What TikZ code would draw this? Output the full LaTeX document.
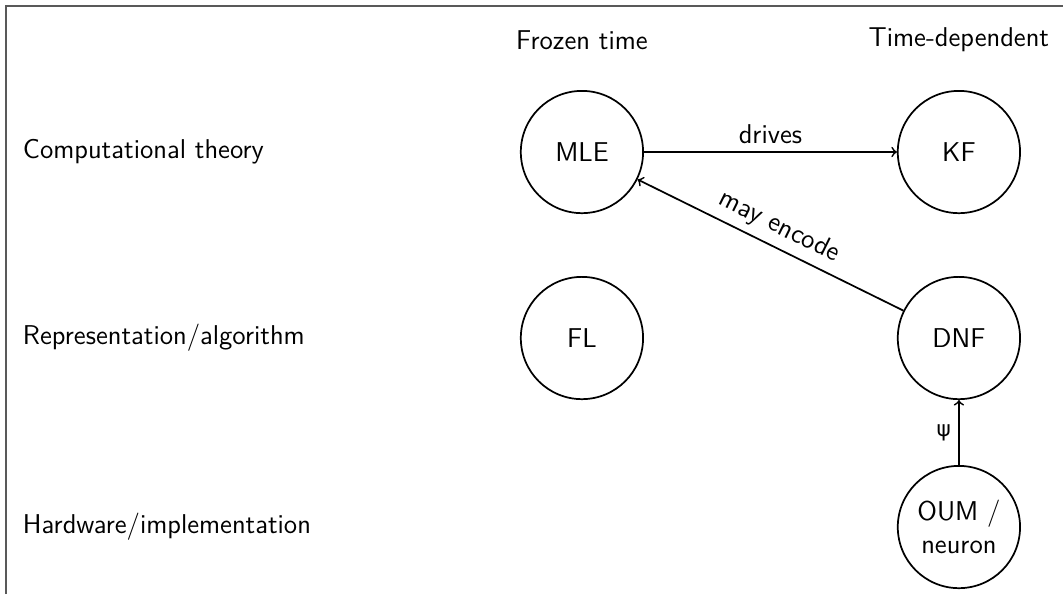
\documentclass[tikz,border=0pt]{standalone}
\usepackage{fontspec}
\newfontfamily\psifont{DejaVu Sans}
\renewcommand{\familydefault}{\sfdefault}
\begin{document}
\begin{tikzpicture}[font=\sffamily\fontsize{12.6}{15}\selectfont]
\tikzset{
  level/.style={circle,draw,thick,minimum size=1.99cm,inner sep=1pt,align=center},
  link/.style={->,thick},
}
\useasboundingbox (0,0) rectangle (17.3,9.667);

% frame edge
\draw[black!65,line width=1pt] (0.098,0) -- (0.098,9.569) -- (17.3,9.569);

% column heads
\node at (9.471,9.015) {Frozen time};
\node at (15.606,9.015) {Time-dependent};

% row heads
\node[right] at (0.25,7.193) {Computational theory};
\node[right] at (0.25,4.166) {Representation/algorithm};
\node[right] at (0.25,1.090) {Hardware/implementation};

\node[level] (MLE) at (9.471,7.193) {MLE};
\node[level] (KF) at (15.606,7.193) {KF};
\node[level] (FL) at (9.471,4.166) {FL};
\node[level] (DNF) at (15.606,4.166) {DNF};
\node[level] (OUM) at (15.606,1.090) {OUM /\\neuron};

\draw[link] (MLE) -- node[above] {drives} (KF);
\draw[link] (DNF) -- node[above,sloped] {may encode} (MLE);
\draw[link] (OUM) -- node[left] {\psifont\normalsize ψ} (DNF);
\end{tikzpicture}
\end{document}
